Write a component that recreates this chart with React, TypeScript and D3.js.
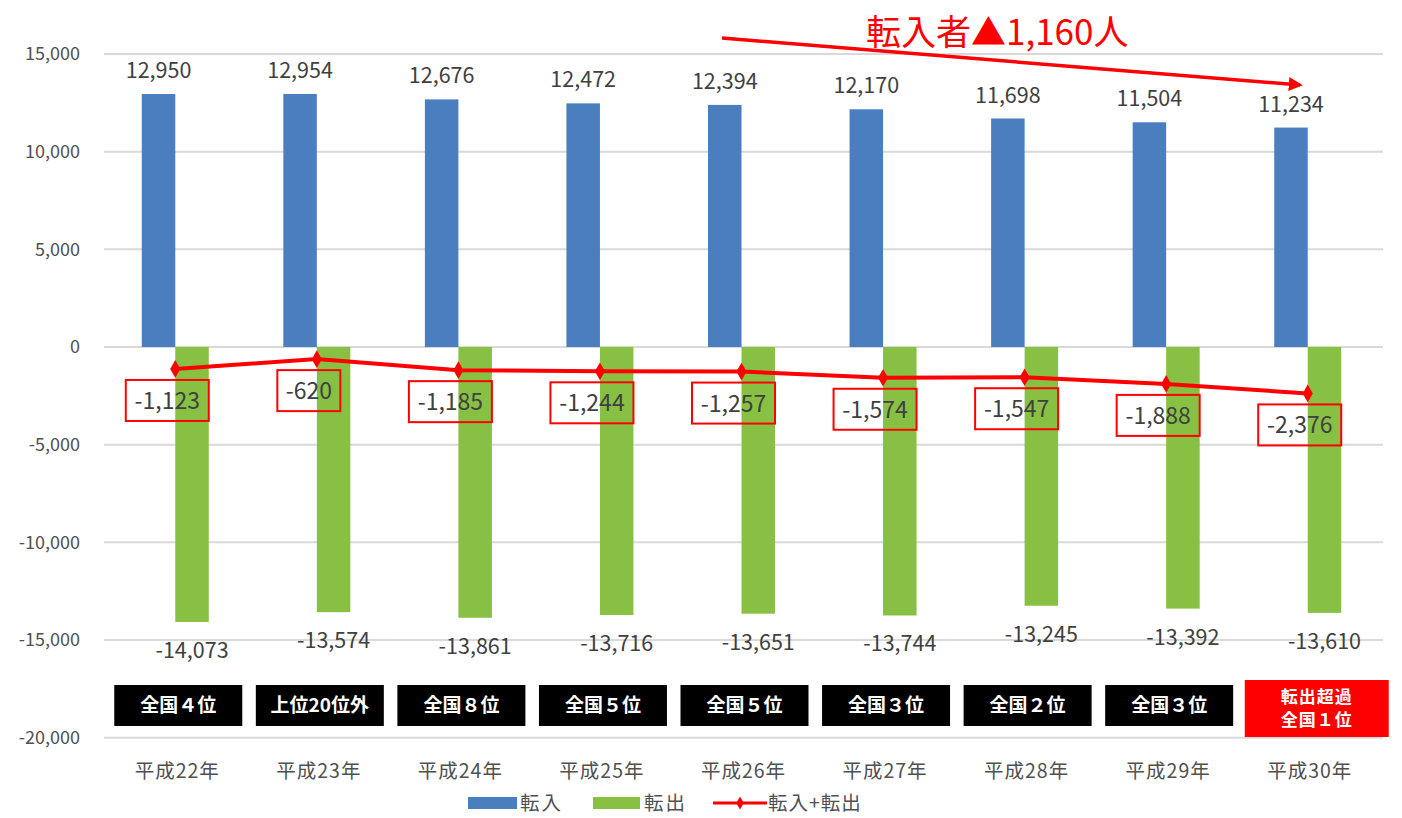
import React from "react";
import * as d3 from "d3";

const categories = ["平成22年", "平成23年", "平成24年", "平成25年", "平成26年", "平成27年", "平成28年", "平成29年", "平成30年"];
const inflow = [12950, 12954, 12676, 12472, 12394, 12170, 11698, 11504, 11234];
const outflow = [-14073, -13574, -13861, -13716, -13651, -13744, -13245, -13392, -13610];
const net = [-1123, -620, -1185, -1244, -1257, -1574, -1547, -1888, -2376];
const ranks = ["全国４位", "上位20位外", "全国８位", "全国５位", "全国５位", "全国３位", "全国２位", "全国３位", "転出超過\n全国１位"];
const yTicks = [15000, 10000, 5000, 0, -5000, -10000, -15000, -20000];
const seriesNames = ["転入", "転出", "転入+転出"];
const annotation = "転入者▲1,160人";

const W = 1402;
const H = 818;
const FONT = "'Noto Sans CJK JP', 'Noto Sans', sans-serif";
const BLUE = "#4a7ebe";
const GREEN = "#88c044";
const RED = "#ff0000";
const TXT = "#404040";

const locale = d3.formatLocale({ decimal: ".", thousands: ",", grouping: [3], currency: ["", ""], minus: "-" });
const fmt = locale.format(",");

export default function App() {
  const x = d3.scaleBand<string>().domain(categories).range([104.5, 1378.5]).padding(0);
  const y = d3.scaleLinear().domain([-20000, 15000]).range([737.7, 54]);
  const bw = x.bandwidth();
  const barW = 33.5;
  const sub = d3.scaleBand<string>().domain(["in", "out"]).range([bw / 2 - barW, bw / 2 + barW]);
  const cx = (i: number) => (x(categories[i]) as number) + bw / 2;

  const line = d3
    .line<number>()
    .x((_, i) => cx(i))
    .y((d) => y(d));

  const diamond = d3.symbol().type(d3.symbolDiamond).size(90)();

  return (
    <svg width={W} height={H} style={{ position: "absolute", left: 0, top: 0, background: "#fff" }} fontFamily={FONT}>
      <rect x={0} y={0} width={W} height={H} fill="#fff" />
      {/* gridlines */}
      {yTicks.map((t) => (
        <g key={t}>
          <line x1={104} x2={1383} y1={y(t)} y2={y(t)} stroke="#d9d9d9" strokeWidth={2} />
          <text x={80} y={y(t)} dy="0.35em" textAnchor="end" fontSize={18} fill="#505050">
            {fmt(t)}
          </text>
        </g>
      ))}
      {/* bars */}
      {categories.map((c, i) => {
        const x0 = x(c) as number;
        return (
          <g key={c}>
            <rect x={x0 + (sub("in") as number)} width={sub.bandwidth()} y={y(inflow[i])} height={y(0) - y(inflow[i])} fill={BLUE} />
            <rect x={x0 + (sub("out") as number)} width={sub.bandwidth()} y={y(0)} height={y(outflow[i]) - y(0)} fill={GREEN} />
            <text x={x0 + (sub("in") as number) + barW / 2} y={y(inflow[i]) - 16} textAnchor="middle" fontSize={21.5} fill={TXT}>
              {fmt(inflow[i])}
            </text>
            <text x={x0 + (sub("out") as number) + barW / 2} y={y(outflow[i]) + 36} textAnchor="middle" fontSize={21.5} fill={TXT}>
              {fmt(outflow[i])}
            </text>
          </g>
        );
      })}
      {/* net line */}
      <path d={line(net) || ""} fill="none" stroke={RED} strokeWidth={4} />
      {net.map((v, i) => (
        <path key={i} d={diamond || ""} transform={`translate(${cx(i)},${y(v)})`} fill={RED} />
      ))}
      {net.map((v, i) => {
        const label = fmt(v);
        const tw = label.length * 10 + 23;
        const bx = cx(i) - 8;
        const by = y(v) + 11;
        return (
          <g key={"l" + i}>
            <rect x={bx - tw / 2} y={by} width={tw} height={41} fill="none" stroke={RED} strokeWidth={2} />
            <text x={bx} y={by + 21} dy="0.35em" textAnchor="middle" fontSize={23} fill={TXT}>
              {label}
            </text>
          </g>
        );
      })}
      {/* rank boxes */}
      {categories.map((c, i) => {
        const last = i === categories.length - 1;
        const bcx = cx(i) + (last ? 9 : 3);
        const w = last ? 144 : 128;
        const top = last ? 680 : 685;
        const h = last ? 57 : 41;
        const lines = ranks[i].split("\n");
        return (
          <g key={"r" + i}>
            <rect x={bcx - w / 2} y={top} width={w} height={h} fill={last ? RED : "#000"} />
            {lines.map((ln, j) => (
              <text
                key={j}
                x={bcx}
                y={top + h / 2 + (j - (lines.length - 1) / 2) * 23}
                dy="0.36em"
                textAnchor="middle"
                fontSize={last ? 17 : 19}
                letterSpacing={last ? 1 : 0}
                fontWeight="bold"
                fill="#fff"
              >
                {ln}
              </text>
            ))}
          </g>
        );
      })}
      {/* category labels */}
      {categories.map((c, i) => (
        <text key={"c" + i} x={cx(i) + 2} y={771} dy="0.35em" textAnchor="middle" fontSize={19.5} letterSpacing={1} fill="#505050">
          {c}
        </text>
      ))}
      {/* legend */}
      <g fontSize={19.5} fill="#505050">
        <rect x={468} y={797} width={49} height={12} fill={BLUE} />
        <text x={520} y={803} dy="0.35em" letterSpacing={2}>{seriesNames[0]}</text>
        <rect x={593} y={797} width={47} height={12} fill={GREEN} />
        <text x={644} y={803} dy="0.35em" letterSpacing={2}>{seriesNames[1]}</text>
        <line x1={713} x2={767} y1={803} y2={803} stroke={RED} strokeWidth={3} />
        <path d={d3.symbol().type(d3.symbolDiamond).size(50)() || ""} transform="translate(740,803)" fill={RED} />
        <text x={768} y={803} dy="0.35em" letterSpacing={1}>{seriesNames[2]}</text>
      </g>
      {/* annotation */}
      <defs>
        <marker id="ah" viewBox="0 0 10 10" refX="8" refY="5" markerWidth="4" markerHeight="4" orient="auto">
          <path d="M0,0 L10,5 L0,10 z" fill={RED} />
        </marker>
      </defs>
      <line x1={722} y1={38} x2={1300} y2={85} stroke={RED} strokeWidth={3.5} markerEnd="url(#ah)" />
      <text x={866} y={45} fontSize={35} fill={RED}>
        {annotation}
      </text>
    </svg>
  );
}
